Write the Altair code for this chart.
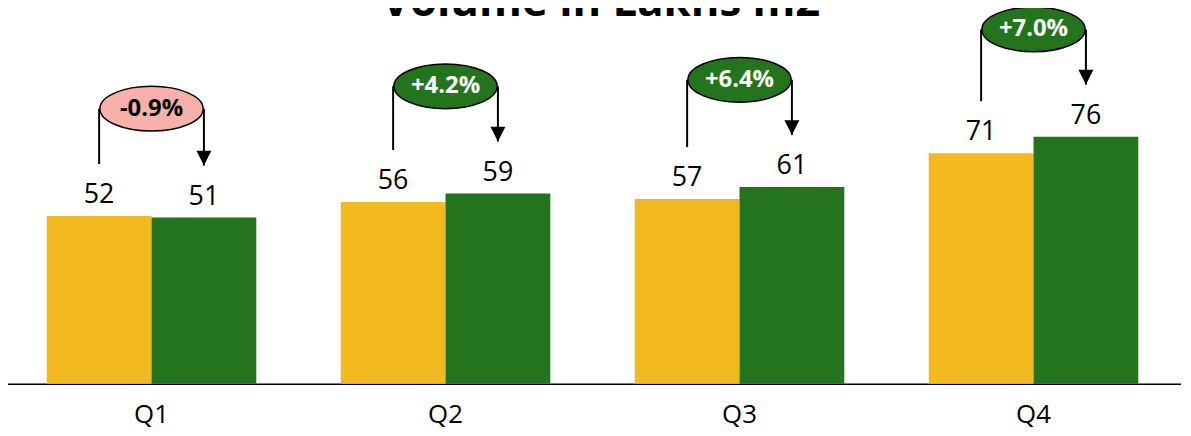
import altair as alt
import pandas as pd

# ---- data ----
quarters = ["Q1", "Q2", "Q3", "Q4"]
prev_values = [51.7, 56.0, 56.9, 71.0]
curr_values = [51.2, 58.6, 60.6, 76.1]
pct_labels = ["-0.9%", "+4.2%", "+6.4%", "+7.0%"]
series_names = ["Previous", "Current"]
title_text = ["Volume in Lakhs m2"]

YELLOW = "#F2BA1E"
GREEN = "#24741E"
PINK = "#F8B1AA"
FONT = "Open Sans"

bars = pd.DataFrame({
    "quarter": quarters * 2,
    "series": [series_names[0]] * 4 + [series_names[1]] * 4,
    "value": prev_values + curr_values,
})

ann = pd.DataFrame({"quarter": quarters, "prev": prev_values,
                    "curr": curr_values, "pct": pct_labels})
ann["top"] = ann[["prev", "curr"]].max(axis=1) + 33
ann["left_start"] = ann["prev"] + 16
ann["tip"] = ann["curr"] + 16
ann["sign"] = ["neg" if p.startswith("-") else "pos" for p in pct_labels]
ann["prev_s"] = series_names[0]
ann["curr_s"] = series_names[1]

x_axis = alt.Axis(title=None, labelAngle=0, ticks=False, domainColor="black",
                  domainWidth=1.5, labelFont=FONT, labelFontSize=26,
                  labelColor="black", labelPadding=18, grid=False)
x_scale = alt.Scale(domain=quarters, range=[-3.5, 1180.5],
                    paddingInner=85 / 296, paddingOuter=85 / 592)
X = alt.X("quarter:N", scale=x_scale, axis=x_axis)
off_scale = alt.Scale(domain=series_names, paddingInner=0, paddingOuter=0)
y_scale = alt.Scale(domain=[0, 106.1], nice=False, zero=True)

ELLIPSE = ("M -1 0 C -1 -0.239 -0.552 -0.433 0 -0.433 "
           "C 0.552 -0.433 1 -0.239 1 0 "
           "C 1 0.239 0.552 0.433 0 0.433 "
           "C -0.552 0.433 -1 0.239 -1 0 Z")
TRIANGLE = "M -1 -2 L 1 -2 L 0 0 Z"

base_b = alt.Chart(bars)
bar_layer = base_b.mark_bar().encode(
    x=X,
    xOffset=alt.XOffset("series:N", scale=off_scale),
    y=alt.Y("value:Q", scale=y_scale, axis=None),
    color=alt.Color("series:N", scale=alt.Scale(domain=series_names, range=[YELLOW, GREEN]), legend=None),
)
label_layer = base_b.mark_text(baseline="alphabetic", dy=-13, fontSize=27,
                               font=FONT, color="black").encode(
    x=X,
    xOffset=alt.XOffset("series:N", scale=off_scale),
    y=alt.Y("value:Q", scale=y_scale, axis=None),
    text=alt.Text("value:Q", format=".0f"),
)

base_a = alt.Chart(ann)
left_rule = base_a.mark_rule(color="black", strokeWidth=2).encode(
    x=X,
    xOffset=alt.XOffset("prev_s:N", scale=off_scale),
    y=alt.Y("left_start:Q", scale=y_scale, axis=None),
    y2="top:Q",
)
right_rule = base_a.mark_rule(color="black", strokeWidth=2).encode(
    x=X,
    xOffset=alt.XOffset("curr_s:N", scale=off_scale),
    y=alt.Y("top:Q", scale=y_scale, axis=None),
    y2="tip:Q",
)
arrow = base_a.mark_point(shape=TRIANGLE, size=225, filled=True,
                          color="black", opacity=1).encode(
    x=X,
    xOffset=alt.XOffset("curr_s:N", scale=off_scale),
    y=alt.Y("tip:Q", scale=y_scale, axis=None),
)
ellipse = base_a.mark_point(shape=ELLIPSE, size=104 ** 2, filled=True,
                            stroke="black", strokeWidth=1.5, opacity=1).encode(
    x=X,
    y=alt.Y("top:Q", scale=y_scale, axis=None),
    fill=alt.Fill("sign:N", scale=alt.Scale(domain=["neg", "pos"], range=[PINK, GREEN]), legend=None),
)
pct_text = base_a.mark_text(font=FONT, fontWeight="bold", fontSize=24,
                            baseline="middle").encode(
    x=X,
    y=alt.Y("top:Q", scale=y_scale, axis=None),
    text="pct:N",
    color=alt.condition("datum.sign == 'pos'", alt.value("white"), alt.value("black")),
)

title_layer = alt.Chart(pd.DataFrame({"t": title_text})).mark_text(
    font=FONT, fontSize=44, fontWeight="bold", color="black",
    baseline="alphabetic", align="center"
).encode(text="t:N", x=alt.value(597), y=alt.value(-23))

chart = alt.layer(
    bar_layer, label_layer, left_rule, right_rule, arrow, ellipse, pct_text, title_layer
).properties(
    width=1183,
    height=347,
    autosize=alt.AutoSizeParams(type="none"),
    padding={"left": 0, "right": 0, "top": 30, "bottom": 43},
).configure_view(stroke=None)

chart.save("out.html", embed_options={"renderer": "svg", "actions": False})
